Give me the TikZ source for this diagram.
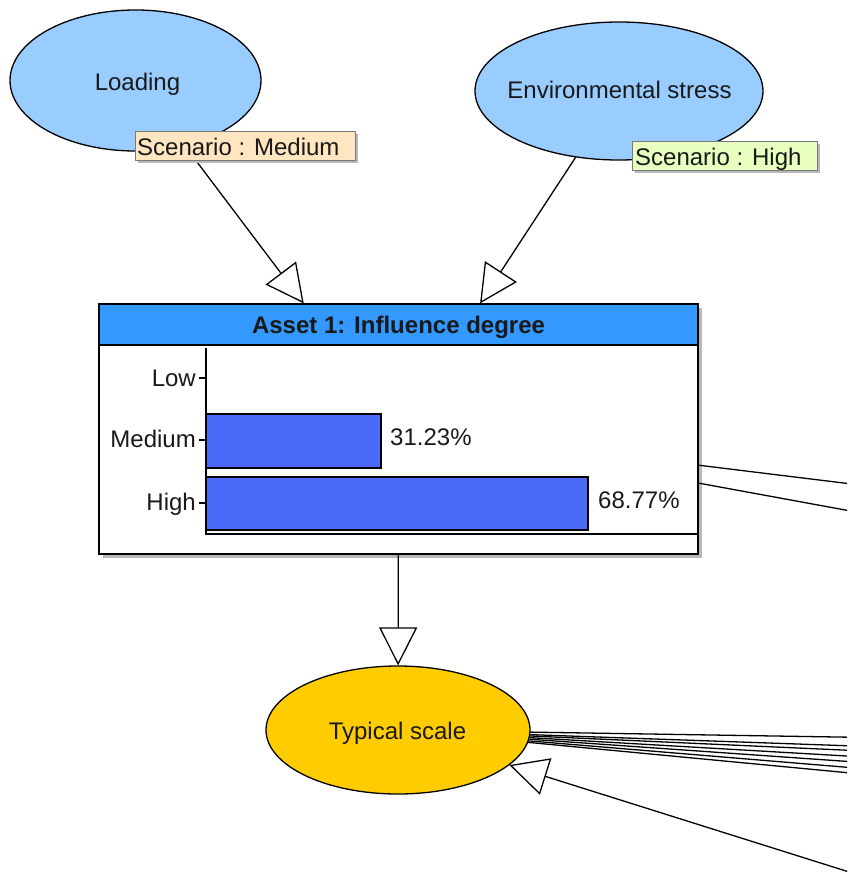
\documentclass[tikz,border=0pt]{standalone}
\usepackage{fontspec}
\setmainfont{Liberation Sans}
\usetikzlibrary{arrows.meta,shapes.geometric,calc}
\definecolor{ellblue}{RGB}{153,204,255}
\definecolor{hdrblue}{RGB}{51,153,255}
\definecolor{gold}{RGB}{255,204,0}
\definecolor{barblue}{RGB}{73,107,247}
\definecolor{peach}{RGB}{255,229,192}
\definecolor{lime}{RGB}{232,255,192}
\definecolor{shadowgray}{RGB}{185,185,185}
\definecolor{labborder}{RGB}{120,120,120}
\definecolor{txt}{RGB}{25,25,25}
\begin{document}
\begin{tikzpicture}[x=1pt,y=-1pt,
  every node/.style={font=\fontsize{24}{28}\selectfont, inner sep=0pt, text=txt},
  ell/.style={ellipse, draw, line width=1.3pt},
  conn/.style={line width=1.3pt},
  arr/.style={conn, -{Triangle[open,length=38pt,width=38pt]}},
  lab/.style={rectangle, draw=labborder, line width=1pt, minimum height=29pt, anchor=north west},
  txtnode/.style={anchor=base},
  axisline/.style={line width=1.2pt},
  bar/.style={draw, fill=barblue, line width=1.2pt}
]
\useasboundingbox (0,0) rectangle (847,875);
\clip (0,0) rectangle (847,875);

% ---- nodes ----
\node[ell, fill=ellblue, minimum width=251pt, minimum height=141pt] (load) at (135.5,80.5) {};
\node[txtnode] (loadt) at (137.5,90) {Loading};
\node[ell, fill=ellblue, minimum width=288pt, minimum height=138pt] (env) at (619,91) {};
\node[txtnode] (envt) at (619.5,99) {Environmental stress};

% box with shadow
\fill[shadowgray] (103,308) rectangle (702,558);
\node[rectangle, draw, line width=1.3pt, fill=white, minimum width=599pt, minimum height=250pt] (box) at (398.5,429) {};
\node[rectangle, draw, line width=1.3pt, fill=hdrblue, minimum width=599pt, minimum height=41pt, anchor=north] (hdr) at (box.north) {};
\node[txtnode, font=\bfseries\fontsize{24}{28}\selectfont] (title) at (398.5,333) {Asset 1: Influence degree};

% bar chart
\draw[bar] (206,414) rectangle (381,468);
\draw[bar] (206,477) rectangle (588,530);
\draw[axisline] (206,348) -- (206,534) -- (698,534);
\draw[axisline] (199,378) -- (206,378);
\draw[axisline] (199,440) -- (206,440);
\draw[axisline] (199,503) -- (206,503);
\node[anchor=base east] (lLow) at (196,386) {Low};
\node[anchor=base east] (lMed) at (196,447) {Medium};
\node[anchor=base east] (lHigh) at (196,510) {High};
\node[anchor=base west] (vMed) at (390,445) {31.23\%};
\node[anchor=base west] (vHigh) at (598,508) {68.77\%};

\node[ell, fill=gold, minimum width=264pt, minimum height=128pt] (ts) at (398,730) {};
\node[txtnode] (tst) at (397.5,739) {Typical scale};

% ---- off-picture coordinates ----
\coordinate (o1) at (1000,502.2);
\coordinate (o2) at (1000,538.4);
\coordinate (f1) at (1000,739.6);
\coordinate (f2) at (1000,751.1);
\coordinate (f3) at (1000,757.1);
\coordinate (f4) at (1000,764.9);
\coordinate (f5) at (1000,772.1);
\coordinate (f6) at (1000,780.0);
\coordinate (f7) at (1000,787.2);
\coordinate (src) at (900,888);

% ---- connectors ----
\draw[arr] (load) -- (box);
\draw[arr] (env) -- (box);
\draw[arr] (box) -- (ts);
\draw[conn] (box) -- (o1);
\draw[conn] (box) -- (o2);
\foreach \f in {f1,f2,f3,f4,f5,f6,f7} \draw[conn] (ts) -- (\f);
\draw[arr] (src) -- (ts);

% ---- scenario labels ----
\fill[shadowgray] (138,134) rectangle (358,163);
\node[lab, fill=peach, minimum width=220pt] (labA) at (135,131) {};
\node[anchor=base west] (labAt) at (137,155) {Scenario : Medium};
\fill[shadowgray] (635,144) rectangle (820,173);
\node[lab, fill=lime, minimum width=185pt] (labB) at (632,141) {};
\node[anchor=base west] (labBt) at (635,165) {Scenario : High};
\end{tikzpicture}
\end{document}
